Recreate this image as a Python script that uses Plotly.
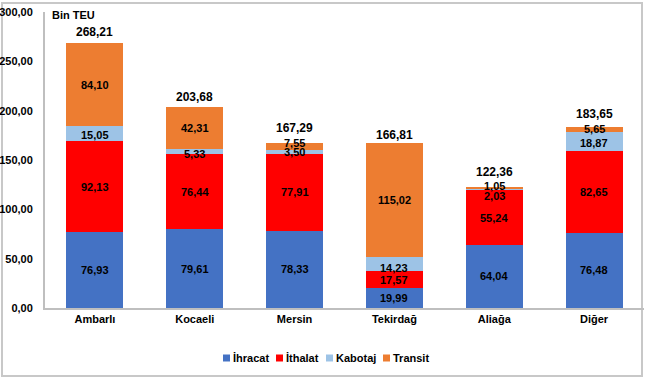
import plotly.graph_objects as go

categories = ["Ambarlı", "Kocaeli", "Mersin", "Tekirdağ", "Aliağa", "Diğer"]
ihracat = [76.93, 79.61, 78.33, 19.99, 64.04, 76.48]
ithalat = [92.13, 76.44, 77.91, 17.57, 55.24, 82.65]
kabotaj = [15.05, 5.33, 3.50, 14.23, 2.03, 18.87]
transit = [84.10, 42.31, 7.55, 115.02, 1.05, 5.65]
totals = [268.21, 203.68, 167.29, 166.81, 122.36, 183.65]

FONT = "Liberation Sans, Arial, sans-serif"
W, H = 647, 380
ML, MR, MT, MB = 45, 3, 12, 72
PW = W - ML - MR
PH = H - MT - MB

def px_x(p):
    return (p - ML) / PW

def px_y(p):
    return (H - MB - p) / PH

def fmt(v):
    return f"{v:.2f}".replace(".", ",")

series = [
    ("İhracat", ihracat, "#4472C4"),
    ("İthalat", ithalat, "#FF0000"),
    ("Kabotaj", kabotaj, "#9DC3E6"),
    ("Transit", transit, "#ED7D31"),
]

# small pixel nudges for crowded labels (as in the reference)
label_nudge = {
    ("Kabotaj", "Ambarlı"): -1,
    ("Kabotaj", "Kocaeli"): -3,
    ("Transit", "Mersin"): 4,
    ("Kabotaj", "Tekirdağ"): -4,
    ("Transit", "Aliağa"): 2,
    ("Kabotaj", "Aliağa"): -7,
    ("Transit", "Diğer"): 1,
    ("Kabotaj", "Diğer"): -1,
}
total_nudge = [11, 10, 15, 8, 15, 13]

fig = go.Figure()
annotations = []
base = [0.0] * len(categories)
for name, vals, color in series:
    fig.add_trace(go.Bar(
        x=categories, y=vals, name=name,
        marker=dict(color=color, line=dict(width=0)),
        showlegend=False, hoverinfo="x+y+name",
    ))
    for i, (c, v) in enumerate(zip(categories, vals)):
        annotations.append(dict(
            x=c, y=base[i] + v / 2, xref="x", yref="y", text=fmt(v),
            showarrow=False, xanchor="center", yanchor="middle",
            yshift=label_nudge.get((name, c), 0),
            font=dict(family=FONT, size=11, color="black", weight=700)))
        base[i] += v

for c, t, s in zip(categories, totals, total_nudge):
    annotations.append(dict(
        x=c, y=t, xref="x", yref="y", text=fmt(t), showarrow=False,
        xanchor="center", yanchor="middle", yshift=s,
        font=dict(family=FONT, size=12, color="black", weight=700)))

# manual legend (compact, like the reference)
legend_pos = [223, 276, 326, 383]  # left edge of each square, in pixels
shapes = [dict(type="rect", xref="paper", yref="paper",
               x0=px_x(2), x1=px_x(642), y0=px_y(376), y1=px_y(3),
               line=dict(color="#c8c8c8", width=2), layer="below")]
annotations.append(dict(text="Bin TEU", xref="paper", yref="paper", x=px_x(50), y=px_y(15),
                        xanchor="left", yanchor="middle", showarrow=False,
                        font=dict(family=FONT, size=11, color="black", weight=700)))
for (name, vals, color), lx in zip(series, legend_pos):
    shapes.append(dict(type="rect", xref="paper", yref="paper",
                       x0=px_x(lx), x1=px_x(lx + 7), y0=px_y(361.5), y1=px_y(354.5),
                       fillcolor=color, line=dict(width=0)))
    annotations.append(dict(text=name, xref="paper", yref="paper", x=px_x(lx + 7.5), y=px_y(358),
                            xanchor="left", yanchor="middle", showarrow=False,
                            font=dict(family=FONT, size=11, color="black", weight=700)))

fig.update_layout(
    width=W, height=H,
    barmode="stack", bargap=0.43,
    margin=dict(l=ML, r=MR, t=MT, b=MB),
    paper_bgcolor="white", plot_bgcolor="white",
    font=dict(family=FONT, size=11, color="black"),
    separators=",.",
    showlegend=False,
    xaxis=dict(showline=True, linecolor="#bfbfbf", linewidth=2, showgrid=False,
               ticks="", automargin=False,
               tickfont=dict(family=FONT, size=11, color="black", weight=700)),
    yaxis=dict(range=[0, 300], dtick=50, tickformat=".2f", showgrid=False,
               showline=True, linecolor="#bfbfbf", linewidth=2, zeroline=False,
               ticks="", ticklabelstandoff=8, automargin=False,
               tickfont=dict(family=FONT, size=11, color="black", weight=700)),
    annotations=annotations,
    shapes=shapes,
)

fig.write_html("out.html", config={"displayModeBar": False},
               post_script="document.body.style.margin='0';document.body.style.overflow='hidden';")
